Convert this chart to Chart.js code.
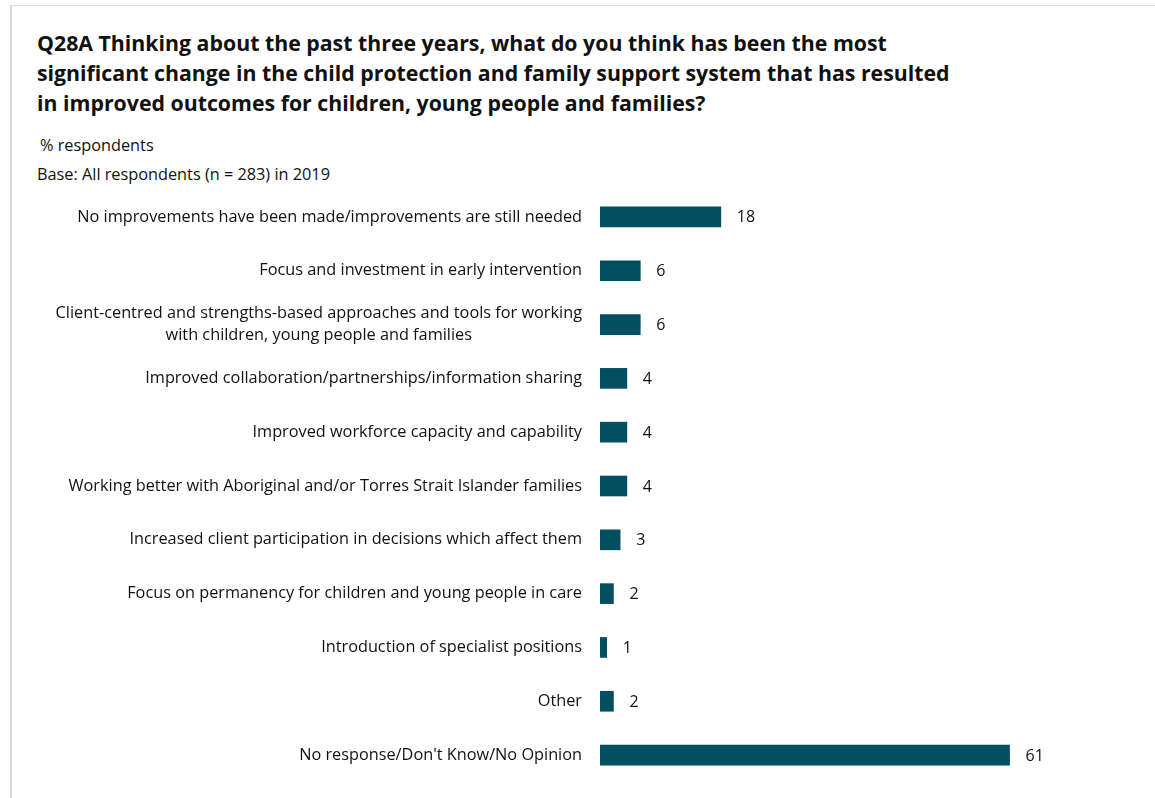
<!DOCTYPE html>
<html>
<head>
<meta charset="utf-8">
<script src="https://cdn.jsdelivr.net/npm/chart.js@4.4.0/dist/chart.umd.min.js"></script>
<style>
  html, body { margin: 0; padding: 0; background: #fff; }
  body { width: 1155px; height: 798px; position: relative; overflow: hidden; font-family: "Open Sans", sans-serif; color: #111; }
  #frame { position: absolute; left: 10px; top: 5px; right: 0; bottom: 0; border-left: 2px solid #d9d9d9; border-top: 1px solid #dcdcdc; }
  #title { position: absolute; left: 37px; top: 28px; font-weight: bold; font-size: 21.3px; line-height: 30px; letter-spacing: 0; }
  .note { position: absolute; font-size: 16.3px; line-height: 20px; }
  #wrap { position: absolute; left: 0; top: 0; width: 1155px; height: 798px; }
</style>
</head>
<body>
<div id="frame"></div>
<div id="title">Q28A Thinking about the past three years, what do you think has been the most<br>significant change in the child protection and family support system that has resulted<br>in improved outcomes for children, young people and families?</div>
<div class="note" style="left:40px; top:135px;">% respondents</div>
<div class="note" style="left:37px; top:164px;">Base: All respondents (n = 283) in 2019</div>
<div id="wrap"><canvas id="chart"></canvas></div>
<script>
// Categories and percentages (2019)
const categories = [
    'No improvements have been made/improvements are still needed',
    'Focus and investment in early intervention',
    ['Client-centred and strengths-based approaches and tools for working', 'with children, young people and families'],
    'Improved collaboration/partnerships/information sharing',
    'Improved workforce capacity and capability',
    'Working better with Aboriginal and/or Torres Strait Islander families',
    'Increased client participation in decisions which affect them',
    'Focus on permanency for children and young people in care',
    'Introduction of specialist positions',
    'Other',
    "No response/Don't Know/No Opinion"
];
const percentages = [18, 6, 6, 4, 4, 4, 3, 2, 1, 2, 61];

const labelFont = '16.3px "Open Sans", sans-serif';

// category labels: right edge fixed, multi-line labels centred on each other
const categoryLabels = {
    id: 'categoryLabels',
    afterDraw(chart) {
        const ctx = chart.ctx;
        const y = chart.scales.y;
        const right = chart.chartArea.left - 18;
        ctx.save();
        ctx.font = labelFont;
        ctx.fillStyle = '#111';
        ctx.textBaseline = 'middle';
        categories.forEach((lab, i) => {
            const lines = Array.isArray(lab) ? lab : [lab];
            const cy = y.getPixelForValue(i);
            const maxW = Math.max(...lines.map(l => ctx.measureText(l).width));
            const lh = 22;
            lines.forEach((l, j) => {
                const ly = cy + (j - (lines.length - 1) / 2) * lh;
                ctx.textAlign = 'center';
                ctx.fillText(l, right - maxW / 2, ly);
            });
        });
        ctx.restore();
    }
};

// value labels to the right of each bar
const valueLabels = {
    id: 'valueLabels',
    afterDatasetsDraw(chart) {
        const ctx = chart.ctx;
        const meta = chart.getDatasetMeta(0);
        ctx.save();
        ctx.font = '16px "Open Sans", sans-serif';
        ctx.fillStyle = '#111';
        ctx.textAlign = 'left';
        ctx.textBaseline = 'middle';
        meta.data.forEach((bar, i) => {
            ctx.fillText(String(percentages[i]), bar.x + 16, bar.y + 1);
        });
        ctx.restore();
    }
};

new Chart(document.getElementById('chart'), {
    type: 'bar',
    data: {
        labels: categories,
        datasets: [{
            label: '2019',
            data: percentages,
            backgroundColor: '#02505f',
            borderWidth: 0,
            barThickness: 20
        }]
    },
    options: {
        indexAxis: 'y',
        responsive: true,
        maintainAspectRatio: false,
        animation: false,
        layout: { padding: { left: 600, top: 190, right: 85, bottom: 16 } },
        scales: {
            x: { min: 0, max: 70, display: false, grid: { display: false } },
            y: { display: false, grid: { display: false } }
        },
        plugins: {
            legend: { display: false },
            tooltip: { enabled: false }
        }
    },
    plugins: [categoryLabels, valueLabels]
});
</script>
</body>
</html>
